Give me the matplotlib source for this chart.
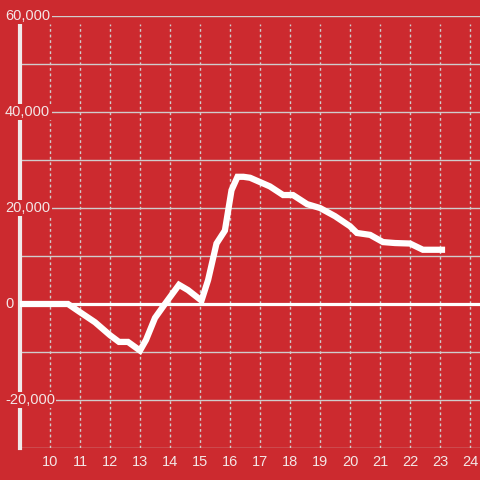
import matplotlib
matplotlib.use('Agg')
import matplotlib.pyplot as plt  # noqa E402

# Hour of day and running value
hours = [9.0, 10.6, 11.0, 11.5, 12.0, 12.3, 12.6, 13.0, 13.2, 13.5,
         13.83, 14.3, 14.6, 15.05, 15.27, 15.55, 15.83, 16.05, 16.25,
         16.45, 16.67, 17.0, 17.33, 17.77, 18.1, 18.57, 19.0, 19.5,
         20.0, 20.23, 20.67, 21.1, 21.5, 22.0, 22.43, 23.17]
values = [0, 0, -1700, -3800, -6500, -7900, -7900, -9700, -7500, -2900,
          0, 4000, 2900, 700, 5000, 12600, 15300, 23700, 26500,
          26500, 26300, 25400, 24500, 22700, 22700, 20800, 20000, 18300,
          16200, 14800, 14400, 12900, 12700, 12600, 11300, 11300]

x_ticks = list(range(10, 25))
y_ticks = [-20000, 0, 20000, 40000, 60000]
y_grid = list(range(-30000, 60001, 10000))

bg = '#cc2a2f'
fg = '#f3e6e6'
grid_col = '#d0cccc'

plt.rcParams['font.family'] = ['Liberation Sans', 'DejaVu Sans']

fig = plt.figure(figsize=(4.8, 4.8), dpi=100, facecolor=bg)
ax = fig.add_axes([20 / 480, 32 / 480, 460 / 480, 432 / 480])
ax.set_facecolor(bg)
ax.set_xlim(9.0, 9.0 + 460 / 30)
ax.set_ylim(-30000, 60000)

# Grid
for y in y_grid:
    if y == 0:
        continue
    ax.axhline(y, color=grid_col, lw=1.0, zorder=1)
for x in x_ticks:
    ax.plot([x, x], [-30000, 58300], color=grid_col, lw=1.0,
            ls=(0, (2, 2)), zorder=1)
ax.axhline(0, color='white', lw=2.3, zorder=2)
ax.plot([9.0, 9.0], [-30000, 58300], color='#f0eaea', lw=3, zorder=2,
        clip_on=False)

# Data line
ax.plot(hours, values, color='white', lw=4.5, solid_joinstyle='miter',
        solid_capstyle='butt', zorder=3)

for s in ax.spines.values():
    s.set_visible(False)
ax.set_xticks([])
ax.set_yticks([])

# Tick labels
for x in x_ticks:
    ax.text(x, -33000, str(x), color=fg, fontsize=10.5, ha='center',
            va='center', clip_on=False)
for y in y_ticks:
    ax.text(9.0 - 15 / 30, y, '{:,}'.format(y), color=fg, fontsize=10.5,
            ha='left', va='center', zorder=4, clip_on=False,
            bbox=dict(boxstyle='square,pad=0.1', fc=bg, ec='none'))

fig.savefig('out.png', dpi=100, facecolor=bg)
